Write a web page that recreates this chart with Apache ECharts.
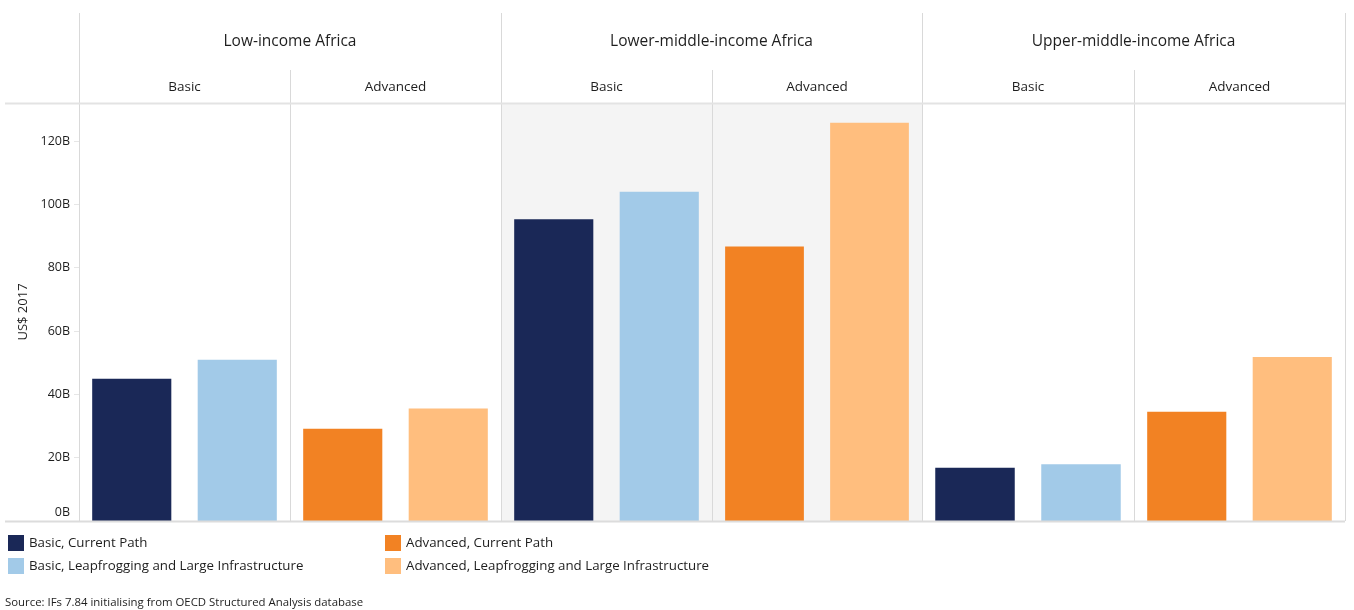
<!DOCTYPE html>
<html>
<head>
<meta charset="utf-8">
<script src="https://cdn.jsdelivr.net/npm/echarts@6/dist/echarts.min.js"></script>
<style>html,body{margin:0;padding:0;background:#fff}#c{width:1354px;height:610px}</style>
</head>
<body>
<div id="c"></div>
<script>
// ---- data ----
const groups = ['Low-income Africa', 'Lower-middle-income Africa', 'Upper-middle-income Africa'];
const levels = ['Basic', 'Advanced'];
const scenarios = ['Current Path', 'Leapfrogging and Large Infrastructure'];
// panel order: Low Basic, Low Advanced, LowerMid Basic, LowerMid Advanced, UpperMid Basic, UpperMid Advanced
const currentPath  = [44.9, 29.1, 95.3, 86.7, 16.8, 34.5];
const leapfrogging = [50.9, 35.5, 104.0, 125.8, 17.9, 51.8];
const yTicks = [0, 20, 40, 60, 80, 100, 120];
const yMax = 132;
const seriesColors = {
  'Basic, Current Path': '#1a2857',
  'Basic, Leapfrogging and Large Infrastructure': '#a2cae8',
  'Advanced, Current Path': '#f28223',
  'Advanced, Leapfrogging and Large Infrastructure': '#ffbe7e'
};
const sourceText = 'Source: IFs 7.84 initialising from OECD Structured Analysis database';

// ---- layout ----
const edges = [79, 290, 501, 712, 922, 1134, 1345];
const plotTop = 103, plotBottom = 521;
const FONT = '"Open Sans", sans-serif';
const TXT = '#1e1e1e';
const lineColor = '#d9d9d9';

const grids = [], xAxes = [], yAxes = [], series = [];
for (let i = 0; i < 6; i++) {
  const shaded = (i === 2 || i === 3);
  grids.push({
    left: edges[i], width: edges[i + 1] - edges[i], top: plotTop, height: plotBottom - plotTop,
    show: shaded, backgroundColor: shaded ? '#f4f4f4' : 'transparent', borderWidth: 0
  });
  xAxes.push({
    type: 'category', gridIndex: i, data: scenarios,
    axisLine: { show: false }, axisTick: { show: false }, axisLabel: { show: false }
  });
  yAxes.push({
    type: 'value', gridIndex: i, min: 0, max: yMax,
    name: i === 0 ? 'US$ 2017' : '', nameLocation: 'middle', nameGap: 49,
    nameTextStyle: { fontFamily: FONT, fontSize: 13, color: TXT },
    splitLine: { show: false }, axisLine: { show: false },
    axisTick: { show: i === 0, length: 5, lineStyle: { color: '#e6e6e6' }, customValues: yTicks },
    axisLabel: {
      show: i === 0, customValues: yTicks, margin: 9,
      fontFamily: FONT, fontSize: 12.5, color: TXT,
      formatter: v => v === 0 ? '{z|0B}' : v + 'B',
      rich: { z: { fontFamily: FONT, fontSize: 12.5, color: TXT, padding: [0, 0, 18, 0] } }
    }
  });
  const lvl = levels[i % 2];
  series.push({
    type: 'bar', name: lvl + ', ' + scenarios[0], xAxisIndex: i, yAxisIndex: i,
    data: [currentPath[i], '-'], barWidth: '75%', barGap: '-100%',
    itemStyle: { color: seriesColors[lvl + ', ' + scenarios[0]] }
  });
  series.push({
    type: 'bar', name: lvl + ', ' + scenarios[1], xAxisIndex: i, yAxisIndex: i,
    data: ['-', leapfrogging[i]], barWidth: '75%', barGap: '-100%',
    itemStyle: { color: seriesColors[lvl + ', ' + scenarios[1]] }
  });
}

const graphics = [];
function line(x1, y1, x2, y2, w, c) {
  graphics.push({ type: 'line', z: 100, shape: { x1, y1, x2, y2 }, style: { stroke: c || lineColor, lineWidth: w || 1 } });
}
[0, 2, 4, 6].forEach(k => line(edges[k] + 0.5, 13, edges[k] + 0.5, plotBottom));
[1, 3, 5].forEach(k => line(edges[k] + 0.5, 70, edges[k] + 0.5, plotBottom));
line(5, plotTop + 0.5, 1345, plotTop + 0.5, 2, '#e3e3e3');
line(5, plotBottom + 0.5, 1345, plotBottom + 0.5, 2, '#dcdcdc');
groups.forEach((g, j) => {
  graphics.push({ type: 'text', z: 100, x: (edges[2 * j] + edges[2 * j + 2]) / 2, y: 42,
    style: { text: g, fontFamily: FONT, fontSize: 15.5, fill: TXT, align: 'center', verticalAlign: 'middle' } });
});
for (let i = 0; i < 6; i++) {
  graphics.push({ type: 'text', z: 100, x: (edges[i] + edges[i + 1]) / 2, y: 87,
    style: { text: levels[i % 2], fontFamily: FONT, fontSize: 13.5, fill: TXT, align: 'center', verticalAlign: 'middle' } });
}
graphics.push({ type: 'text', z: 100, x: 5, y: 603,
  style: { text: sourceText, fontFamily: FONT, fontSize: 11.4, fill: TXT, align: 'left', verticalAlign: 'middle' } });

const legendBase = {
  orient: 'vertical', top: 535, itemWidth: 16, itemHeight: 16, itemGap: 7, icon: 'rect',
  textStyle: { fontFamily: FONT, fontSize: 13.3, color: TXT, padding: [0, 0, 0, 0] }, padding: 0
};

const chart = echarts.init(document.getElementById('c'), null, { renderer: 'canvas' });
chart.setOption({
  animation: false,
  backgroundColor: '#fff',
  legend: [
    Object.assign({}, legendBase, { left: 8, data: [levels[0] + ', ' + scenarios[0], levels[0] + ', ' + scenarios[1]] }),
    Object.assign({}, legendBase, { left: 385, data: [levels[1] + ', ' + scenarios[0], levels[1] + ', ' + scenarios[1]] })
  ],
  grid: grids, xAxis: xAxes, yAxis: yAxes, series: series,
  graphic: graphics
});
</script>
</body>
</html>
